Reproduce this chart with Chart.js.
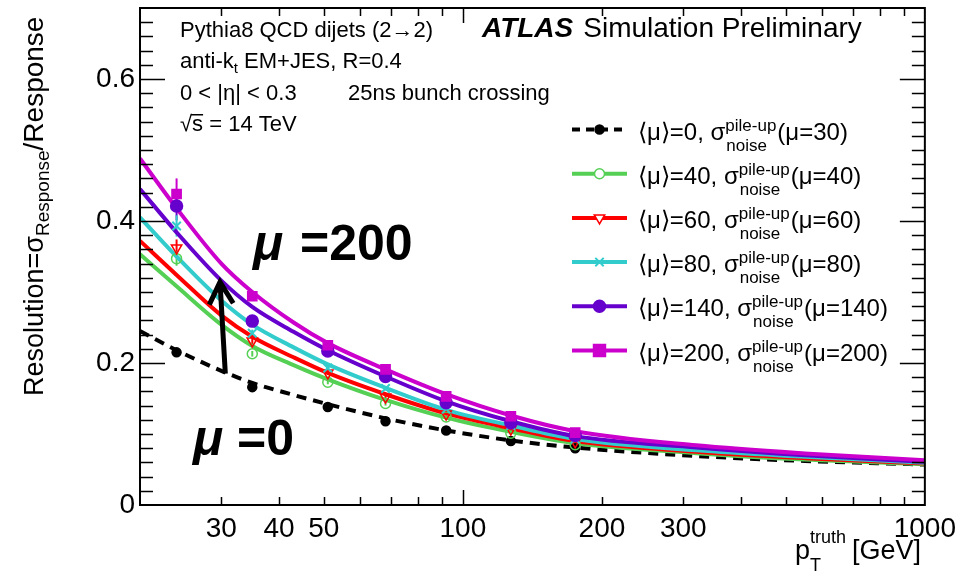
<!DOCTYPE html>
<html>
<head>
<meta charset="utf-8">
<title>Jet resolution vs pile-up</title>
<script src="https://cdn.jsdelivr.net/npm/chart.js@4.4.0/dist/chart.umd.min.js"></script>
<style>
    html, body { margin: 0; padding: 0; background: #fff; }
    #wrap { width: 963px; height: 574px; }
</style>
</head>
<body>
<div id="wrap"><canvas id="resChart" width="963" height="574"></canvas></div>
<script>
// Data: pT bin centres of the MC points and the fitted curves
const pointPt = [24, 35, 51, 68, 92, 127, 175];
const curvePt = [20, 24, 30, 35, 43, 51, 68, 92, 127, 175, 320, 550, 1000];

// MC points (resolution) for each pile-up scenario
const ptsMu0   = [0.215, 0.166, 0.138, 0.118, 0.105, 0.090, 0.080];
const ptsMu40  = [0.347, 0.213, 0.173, 0.143, 0.124, 0.101, 0.085];
const ptsMu60  = [0.362, 0.231, 0.186, 0.152, 0.128, 0.107, 0.089];
const ptsMu80  = [0.393, 0.242, 0.193, 0.164, 0.135, 0.112, 0.093];
const ptsMu140 = [0.421, 0.259, 0.217, 0.181, 0.144, 0.116, 0.098];
const ptsMu200 = [0.438, 0.294, 0.225, 0.191, 0.153, 0.125, 0.102];

// statistical errors on the points
const errMu0   = [0.004, 0.003, 0.002, 0.002, 0.002, 0.002, 0.002];
const errMu40  = [0.010, 0.004, 0.003, 0.003, 0.002, 0.002, 0.002];
const errMu60  = [0.012, 0.005, 0.003, 0.003, 0.002, 0.002, 0.002];
const errMu80  = [0.015, 0.005, 0.003, 0.003, 0.002, 0.002, 0.002];
const errMu140 = [0.020, 0.006, 0.004, 0.003, 0.003, 0.002, 0.002];
const errMu200 = [0.022, 0.006, 0.004, 0.004, 0.003, 0.002, 0.002];

// fitted resolution curves
const fitMu0   = [0.245, 0.218, 0.189, 0.172, 0.155, 0.142, 0.122, 0.105, 0.091, 0.081, 0.069, 0.062, 0.057];
const fitMu40  = [0.353, 0.308, 0.254, 0.224, 0.197, 0.177, 0.148, 0.123, 0.103, 0.087, 0.073, 0.064, 0.0575];
const fitMu60  = [0.372, 0.324, 0.267, 0.237, 0.208, 0.186, 0.156, 0.129, 0.108, 0.090, 0.075, 0.066, 0.0585];
const fitMu80  = [0.405, 0.350, 0.288, 0.254, 0.222, 0.198, 0.165, 0.134, 0.112, 0.093, 0.077, 0.068, 0.0595];
const fitMu140 = [0.445, 0.384, 0.316, 0.279, 0.244, 0.218, 0.181, 0.146, 0.118, 0.097, 0.081, 0.070, 0.061];
const fitMu200 = [0.488, 0.418, 0.340, 0.300, 0.257, 0.228, 0.191, 0.156, 0.126, 0.104, 0.084, 0.0725, 0.063];

const legendMu    = ['0', '40', '60', '80', '140', '200'];
const legendNoise = ['30', '40', '60', '80', '140', '200'];

const xTickLabels = [30, 40, 50, 100, 200, 300, 1000];
const yTickLabels = [0, 0.2, 0.4, 0.6];

const FONT = '"Liberation Sans", Arial, Helvetica, sans-serif';

const series = [
    { pts: ptsMu0,   err: errMu0,   fit: fitMu0,   color: '#000000', style: 'circle',   fill: true,  radius: 4.5, dash: [10, 7] },
    { pts: ptsMu40,  err: errMu40,  fit: fitMu40,  color: '#55d055', style: 'circle',   fill: false, radius: 5 },
    { pts: ptsMu60,  err: errMu60,  fit: fitMu60,  color: '#ff0000', style: 'triangle', fill: false, radius: 6, rotation: 180 },
    { pts: ptsMu80,  err: errMu80,  fit: fitMu80,  color: '#33cccc', style: 'crossRot', fill: false, radius: 6 },
    { pts: ptsMu140, err: errMu140, fit: fitMu140, color: '#6600cc', style: 'circle',   fill: true,  radius: 6 },
    { pts: ptsMu200, err: errMu200, fit: fitMu200, color: '#cc00cc', style: 'rect',     fill: true,  radius: 6.5 }
];

function buildDatasets() {
    const markerSets = [];
    const curveSets = [];
    // reversed so the mu=200 curve ends up drawn on top
    series.slice().reverse().forEach(s => {
        markerSets.push({
            type: 'scatter',
            data: pointPt.map((x, i) => ({ x: x, y: s.pts[i] })),
            showLine: false,
            pointStyle: s.style,
            pointRadius: s.radius,
            pointRotation: s.rotation || 0,
            pointBorderColor: s.color,
            pointBackgroundColor: s.fill ? s.color : 'rgba(255,255,255,0)',
            pointBorderWidth: s.style === 'crossRot' ? 2 : 1.5,
            errors: s.err,
            errColor: s.color
        });
        curveSets.push({
            type: 'line',
            data: curvePt.map((x, i) => ({ x: x, y: s.fit[i] })),
            borderColor: s.color,
            borderWidth: 4,
            borderDash: s.dash || [],
            pointRadius: 0,
            cubicInterpolationMode: 'monotone',
            fill: false
        });
    });
    return markerSets.concat(curveSets);
}

function text(ctx, s, x, y, size, font) {
    ctx.font = (font || '') + ' ' + size + 'px ' + FONT;
    ctx.fillText(s, x, y);
    return x + ctx.measureText(s).width;
}

function drawMarker(ctx, s, x, y) {
    const r = s.radius;
    ctx.save();
    ctx.strokeStyle = s.color;
    ctx.fillStyle = s.fill ? s.color : '#fff';
    ctx.lineWidth = s.style === 'crossRot' ? 2 : 1.5;
    ctx.beginPath();
    if (s.style === 'circle') {
        ctx.arc(x, y, r, 0, Math.PI * 2);
        ctx.fill(); ctx.stroke();
    } else if (s.style === 'rect') {
        const h = r * 0.92;
        ctx.rect(x - h, y - h, 2 * h, 2 * h);
        ctx.fill(); ctx.stroke();
    } else if (s.style === 'triangle') {
        ctx.moveTo(x, y + r);
        ctx.lineTo(x - r * 0.87, y - r * 0.5);
        ctx.lineTo(x + r * 0.87, y - r * 0.5);
        ctx.closePath();
        ctx.fill(); ctx.stroke();
    } else {
        const d = r * 0.7;
        ctx.moveTo(x - d, y - d); ctx.lineTo(x + d, y + d);
        ctx.moveTo(x + d, y - d); ctx.lineTo(x - d, y + d);
        ctx.stroke();
    }
    ctx.restore();
}

// error bars under the markers
const errorBarPlugin = {
    id: 'errorBars',
    beforeDatasetsDraw(chart) {
        const ctx = chart.ctx;
        const xs = chart.scales.x, ys = chart.scales.y;
        chart.data.datasets.forEach(ds => {
            if (!ds.errors) return;
            ctx.save();
            ctx.strokeStyle = ds.errColor;
            ctx.lineWidth = 2;
            ds.data.forEach((p, i) => {
                const px = xs.getPixelForValue(p.x);
                ctx.beginPath();
                ctx.moveTo(px, ys.getPixelForValue(p.y - ds.errors[i]));
                ctx.lineTo(px, ys.getPixelForValue(p.y + ds.errors[i]));
                ctx.stroke();
            });
            ctx.restore();
        });
    }
};

// ROOT style frame with inward ticks on all four sides
const framePlugin = {
    id: 'rootFrame',
    afterDatasetsDraw(chart) {
        const ctx = chart.ctx;
        const a = chart.chartArea;
        const xs = chart.scales.x, ys = chart.scales.y;
        ctx.save();
        ctx.strokeStyle = '#000';
        ctx.lineWidth = 2;
        ctx.strokeRect(a.left, a.top, a.right - a.left, a.bottom - a.top);
        ctx.lineWidth = 1.5;
        ctx.beginPath();
        for (let k = 1; k < 35; k++) {
            const v = k * 0.02;
            const py = Math.round(ys.getPixelForValue(v)) + 0.5;
            const len = (k % 10 === 0) ? 25 : 13;
            ctx.moveTo(a.left, py); ctx.lineTo(a.left + len, py);
            ctx.moveTo(a.right, py); ctx.lineTo(a.right - len, py);
        }
        const xt = [30, 40, 50, 60, 70, 80, 90, 100, 200, 300, 400, 500, 600, 700, 800, 900];
        xt.forEach(v => {
            const px = Math.round(xs.getPixelForValue(v)) + 0.5;
            const len = v === 100 ? 15 : 8;
            ctx.moveTo(px, a.bottom); ctx.lineTo(px, a.bottom - len);
            ctx.moveTo(px, a.top); ctx.lineTo(px, a.top + len);
        });
        ctx.stroke();
        ctx.restore();
    }
};

// texts, legend, arrow and axis titles
const annotationPlugin = {
    id: 'annotations',
    afterDraw(chart) {
        const ctx = chart.ctx;
        const xs = chart.scales.x, ys = chart.scales.y;
        ctx.save();
        ctx.fillStyle = '#000';
        ctx.textAlign = 'left';
        ctx.textBaseline = 'alphabetic';

        // info block
        text(ctx, 'Pythia8 QCD dijets (2\u21922)', 180, 37, 22);
        let x = text(ctx, 'anti-k', 180, 68, 22);
        x = text(ctx, 't', x, 73, 15);
        text(ctx, ' EM+JES, R=0.4', x, 68, 22);
        text(ctx, '0 < |\u03b7| < 0.3', 180, 100, 22);
        text(ctx, '25ns bunch crossing', 348, 100, 22);
        x = text(ctx, '\u221a', 180, 131, 22);
        const sx = x;
        x = text(ctx, 's', x, 131, 22);
        ctx.fillRect(sx - 1, 114, x - sx + 1, 1.5);
        text(ctx, ' = 14 TeV', x, 131, 22);

        x = text(ctx, 'ATLAS', 482, 37, 28, 'italic bold');
        text(ctx, 'Simulation Preliminary', x + 10, 37, 28);

        // legend
        series.forEach((s, i) => {
            const cy = 129.5 + i * 44.2;
            ctx.save();
            ctx.strokeStyle = s.color;
            ctx.lineWidth = 4;
            ctx.setLineDash(s.dash ? [8, 6] : []);
            ctx.beginPath();
            ctx.moveTo(572, cy); ctx.lineTo(627, cy);
            ctx.stroke();
            ctx.restore();
            drawMarker(ctx, s, 599.5, cy);
            let lx = text(ctx, '\u27e8\u03bc\u27e9=' + legendMu[i] + ', \u03c3', 638, cy + 10, 24);
            const x1 = text(ctx, 'pile-up', lx, cy + 1, 17);
            const x2 = text(ctx, 'noise', lx + 1, cy + 21, 17);
            text(ctx, '(\u03bc=' + legendNoise[i] + ')', Math.max(x1, x2) + 1, cy + 10, 24);
        });

        // big mu labels
        text(ctx, '\u03bc', 253, 260, 50, 'italic bold');
        text(ctx, '=200', 300, 260, 50, 'bold');
        text(ctx, '\u03bc', 193, 455, 50, 'italic bold');
        text(ctx, '=0', 237, 455, 50, 'bold');

        // arrow from mu=0 curve up to the mu=200 region
        const bx = xs.getPixelForValue(30.6), by = ys.getPixelForValue(0.185);
        const tx = xs.getPixelForValue(29.8), ty = ys.getPixelForValue(0.314);
        const ang = Math.atan2(ty - by, tx - bx);
        ctx.strokeStyle = '#000';
        ctx.lineWidth = 5;
        ctx.lineCap = 'butt';
        ctx.beginPath();
        ctx.moveTo(bx, by); ctx.lineTo(tx, ty);
        ctx.moveTo(tx - 25 * Math.cos(ang - 0.5), ty - 25 * Math.sin(ang - 0.5));
        ctx.lineTo(tx, ty);
        ctx.lineTo(tx - 25 * Math.cos(ang + 0.5), ty - 25 * Math.sin(ang + 0.5));
        ctx.stroke();

        // x title
        x = text(ctx, 'p', 795, 559, 27);
        text(ctx, 'T', x, 571, 18);
        const xe = text(ctx, 'truth', x, 543, 18);
        text(ctx, '[GeV]', xe + 6, 559, 27);

        // y title (rotated)
        ctx.translate(43, 396);
        ctx.rotate(-Math.PI / 2);
        x = text(ctx, 'Resolution=\u03c3', 0, 0, 27);
        x = text(ctx, 'Response', x, 6, 19);
        text(ctx, '/Response', x, 0, 28);
        ctx.restore();
    }
};

const ctx = document.getElementById('resChart').getContext('2d');
new Chart(ctx, {
    type: 'scatter',
    data: { datasets: buildDatasets() },
    options: {
        responsive: false,
        animation: false,
        devicePixelRatio: 1,
        layout: { padding: { left: 0, right: 35, top: 8, bottom: 0 } },
        plugins: { legend: { display: false }, tooltip: { enabled: false } },
        scales: {
            x: {
                type: 'logarithmic',
                min: 20,
                max: 1000,
                grid: { display: false, drawTicks: false },
                border: { display: false },
                ticks: {
                    autoSkip: false,
                    maxRotation: 0,
                    padding: 7,
                    color: '#000',
                    font: { family: FONT, size: 28 },
                    callback: v => xTickLabels.some(t => Math.abs(t - v) < 1e-6) ? String(Math.round(v)) : ''
                },
                afterFit: s => { s.height = 69; }
            },
            y: {
                type: 'linear',
                min: 0,
                max: 0.7,
                grid: { display: false, drawTicks: false },
                border: { display: false },
                ticks: {
                    stepSize: 0.1,
                    padding: 5,
                    color: '#000',
                    font: { family: FONT, size: 28 },
                    callback: v => yTickLabels.some(t => Math.abs(t - v) < 1e-9) ? (v === 0 ? '0' : v.toFixed(1)) : ''
                },
                afterFit: s => { s.width = 140; s.paddingTop = 0; s.paddingBottom = 0; }
            }
        }
    },
    plugins: [errorBarPlugin, framePlugin, annotationPlugin]
});
</script>
</body>
</html>
